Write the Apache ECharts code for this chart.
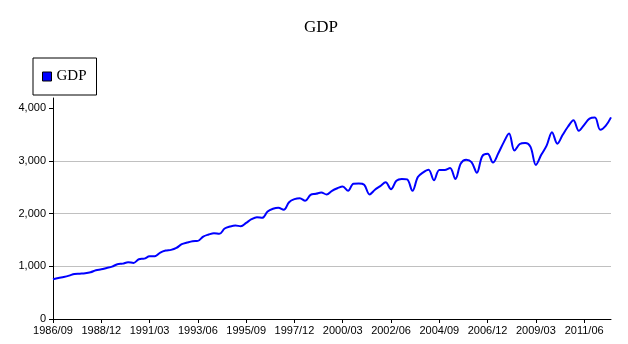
<!DOCTYPE html>
<html>
<head>
<meta charset="utf-8">
<script src="https://cdn.jsdelivr.net/npm/echarts@6/dist/echarts.min.js"></script>
<style>
html,body{margin:0;padding:0;background:#fff;}
#chart{width:628px;height:344px;}
</style>
</head>
<body>
<div id="chart"></div>
<script>
const categories = [
 '1986/09','1986/12',
 '1987/03','1987/06','1987/09','1987/12',
 '1988/03','1988/06','1988/09','1988/12',
 '1989/03','1989/06','1989/09','1989/12',
 '1990/03','1990/06','1990/09','1990/12',
 '1991/03','1991/06','1991/09','1991/12',
 '1992/03','1992/06','1992/09','1992/12',
 '1993/03','1993/06','1993/09','1993/12',
 '1994/03','1994/06','1994/09','1994/12',
 '1995/03','1995/06','1995/09','1995/12',
 '1996/03','1996/06','1996/09','1996/12',
 '1997/03','1997/06','1997/09','1997/12',
 '1998/03','1998/06','1998/09','1998/12',
 '1999/03','1999/06','1999/09','1999/12',
 '2000/03','2000/06','2000/09','2000/12',
 '2001/03','2001/06','2001/09','2001/12',
 '2002/03','2002/06','2002/09','2002/12',
 '2003/03','2003/06','2003/09','2003/12',
 '2004/03','2004/06','2004/09','2004/12',
 '2005/03','2005/06','2005/09','2005/12',
 '2006/03','2006/06','2006/09','2006/12',
 '2007/03','2007/06','2007/09','2007/12',
 '2008/03','2008/06','2008/09','2008/12',
 '2009/03','2009/06','2009/09','2009/12',
 '2010/03','2010/06','2010/09','2010/12',
 '2011/03','2011/06','2011/09','2011/12',
 '2012/03','2012/06','2012/09'
];
const gdpValues = [
 753, 778, 797, 822, 854, 860, 867, 886, 924, 943, 968, 993, 1038, 1050, 1076, 1063, 1133, 1145, 1188,
 1190, 1259, 1297, 1310, 1348, 1418, 1449, 1475, 1481, 1563, 1601, 1627, 1614, 1715, 1753, 1772, 1760, 1822,
 1892, 1930, 1918, 2038, 2089, 2108, 2070, 2215, 2272, 2291, 2241, 2354, 2373, 2399, 2361, 2430, 2478,
 2513, 2431, 2565, 2567, 2545, 2361, 2450, 2520, 2592, 2462, 2620, 2655, 2646, 2430, 2690, 2780, 2830, 2630,
 2826, 2826, 2862, 2656, 2947, 3020, 2976, 2773, 3086, 3131, 2966, 3143, 3349, 3518, 3194, 3318, 3338, 3264,
 2922, 3112, 3286, 3540, 3324, 3492, 3650, 3768, 3568, 3682, 3799, 3818, 3587, 3660, 3822
];
const yTicks = [0, 1000, 2000, 3000, 4000];
const seriesName = 'GDP';
const chartTitle = 'GDP';

const chart = echarts.init(document.getElementById('chart'), null, {renderer: 'canvas'});
chart.setOption({
  animation: false,
  backgroundColor: '#ffffff',
  title: {
    text: chartTitle,
    left: 304,
    top: 19,
    padding: 0,
    textStyle: {fontFamily: 'Liberation Serif', fontSize: 17, fontWeight: 'normal', color: '#000'}
  },
  legend: {
    data: [seriesName],
    left: 33,
    top: 58,
    orient: 'vertical',
    padding: [11, 10, 11, 9],
    borderColor: '#000',
    borderWidth: 1,
    icon: 'rect',
    itemWidth: 9,
    itemHeight: 9,
    itemGap: 0,
    itemStyle: {color: '#0000ff', borderColor: '#000', borderWidth: 1},
    textStyle: {fontFamily: 'Liberation Serif', fontSize: 15, color: '#000'},
    selectedMode: false
  },
  grid: {left: 53, right: 17, top: 98, bottom: 25, containLabel: false},
  xAxis: {
    type: 'category',
    data: categories,
    boundaryGap: false,
    axisLine: {show: true, lineStyle: {color: '#000', width: 1}},
    axisTick: {show: true, interval: 8, length: 4, lineStyle: {color: '#000'}},
    axisLabel: {interval: 8, margin: 6, color: '#000', fontFamily: 'Liberation Sans', fontSize: 11, hideOverlap: false},
    splitLine: {show: false}
  },
  yAxis: {
    type: 'value',
    min: 0,
    max: 4190,
    interval: 1000,
    axisLine: {show: true, lineStyle: {color: '#000', width: 1}},
    axisTick: {show: true, length: 4, customValues: yTicks, lineStyle: {color: '#000'}},
    axisLabel: {
      customValues: yTicks,
      margin: 7,
      color: '#000',
      fontFamily: 'Liberation Sans',
      fontSize: 11,
      formatter: function (v) { return v.toLocaleString('en-US'); }
    },
    splitLine: {show: true, showMinLine: false, showMaxLine: false, lineStyle: {color: '#c0c0c0', width: 1}}
  },
  series: [{
    name: seriesName,
    type: 'line',
    data: gdpValues,
    symbol: 'none',
    smooth: 0.35,
    itemStyle: {color: '#0000ff'},
    lineStyle: {color: '#0000ff', width: 2}
  }]
});
</script>
</body>
</html>
